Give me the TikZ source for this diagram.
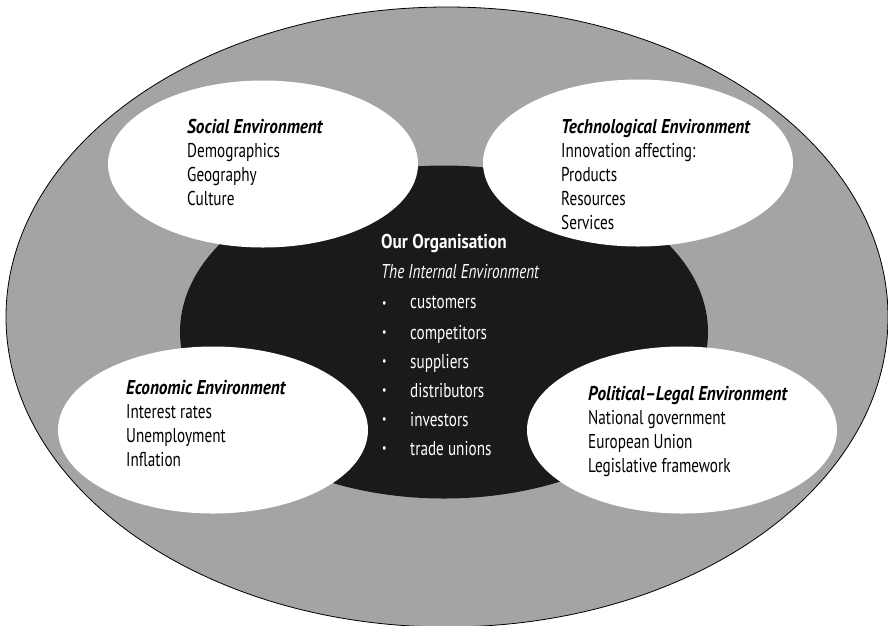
\documentclass[tikz,border=0pt]{standalone}
\usepackage{fontspec}
\setmainfont{PT Sans}[FakeStretch=0.76]
\newfontfamily\headfont{PT Sans}[FakeStretch=0.86, Ligatures=TeX]
\usetikzlibrary{shapes.geometric}

\definecolor{outergray}{HTML}{A4A4A4}
\definecolor{coreblack}{HTML}{1A1A1A}

\newcommand{\envtitle}[1]{{\headfont\bfseries\itshape #1}}

\tikzset{
  envellipse/.style={ellipse, fill=white, minimum width=310pt, minimum height=167pt, inner sep=0pt},
  envtext/.style={anchor=north west, align=left, inner sep=0pt, font=\fontsize{20}{24}\selectfont},
  orgtext/.style={anchor=north west, inner sep=0pt, text=white, font=\fontsize{20}{24}\selectfont}
}

\begin{document}
\begin{tikzpicture}[x=1pt, y=-1pt]
			\useasboundingbox (0,0) rectangle (888,625);
			
			% macro environment and organisation
			\node[ellipse, draw=black, thick, fill=outergray, minimum width=882pt, minimum height=620pt] (outer) at (447, 317) {};
			\node[ellipse, fill=coreblack, minimum width=528pt, minimum height=333pt, inner sep=0pt] (org) at (444, 332) {};
			
			% the four environments
			\node[envellipse] (social) at (263, 164) {};
			\node[envellipse] (tech) at (638, 163) {};
			\node[envellipse] (econ) at (213, 430) {};
			\node[envellipse] (polit) at (682, 430) {};
			
			\node[envtext] (socialtext) at (187, 119) {\envtitle{Social Environment}\\Demographics\\Geography\\Culture};
			\node[envtext] (techtext) at (561, 119) {\envtitle{Technological Environment}\\Innovation affecting:\\Products\\Resources\\Services};
			\node[envtext] (econtext) at (126, 380) {\envtitle{Economic Environment}\\Interest rates\\Unemployment\\Inflation};
			\node[envtext] (polittext) at (588, 386) {\envtitle{Political–Legal Environment}\\National government\\European Union\\Legislative framework};
			
			% inside the organisation
			\node[orgtext] (orgtitle) at (381, 234) {{\headfont\bfseries Our Organisation}};
			\node[orgtext] (orgsub) at (381, 264) {\textit{The Internal Environment}};
			\foreach \member [count=\i] in {customers, competitors, suppliers, distributors, investors, trade unions} {
				\node[orgtext, font=\fontsize{13}{14}\selectfont] (bullet\i) at (382, 301+29*\i-29) {\textbullet};
				\node[orgtext] (member\i) at (410, 296+29*\i-29) {\member};
			}
		\end{tikzpicture}
\end{document}
